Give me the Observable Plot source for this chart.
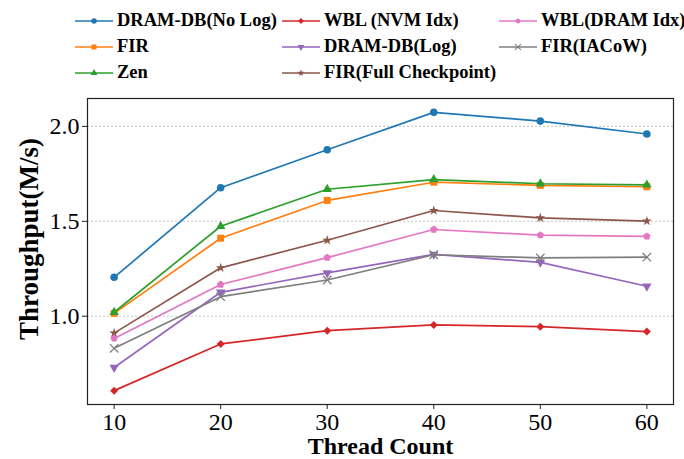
<!DOCTYPE html>
<html>
<head>
<meta charset="utf-8">
<script src="https://cdn.jsdelivr.net/npm/d3@7"></script>
<script src="https://cdn.jsdelivr.net/npm/@observablehq/plot@0.6"></script>
<style>
  html, body { margin: 0; padding: 0; background: #fff; }
  #wrap { position: relative; width: 684px; height: 459px; overflow: hidden; font-family: "Liberation Serif", "DejaVu Serif", serif; }
  #legend { position: relative; width: 684px; height: 88px; font-weight: bold; font-size: 18.5px; color: #000; }
  .item { position: absolute; display: flex; align-items: center; white-space: nowrap; }
  .item svg { display: block; }
  .item span { margin-left: 4px; }
  #ylabel { position: absolute; left: 29px; top: 239px; transform: translate(-50%, -50%) rotate(-90deg); font-weight: bold; font-size: 27px; white-space: nowrap; color: #000; line-height: 1; }
</style>
</head>
<body>
<div id="wrap">
  <div id="legend"></div>
  <div id="chart"></div>
  <div id="ylabel">Throughput(M/s)</div>
</div>
<script>
const threads = [10, 20, 30, 40, 50, 60];

const seriesNames = [
  "DRAM-DB(No Log)", "FIR", "Zen",
  "WBL (NVM Idx)", "DRAM-DB(Log)", "FIR(Full Checkpoint)",
  "WBL(DRAM Idx)", "FIR(IACoW)"
];
const dramNoLog   = [1.205, 1.677, 1.877, 2.074, 2.028, 1.960];
const fir         = [1.015, 1.411, 1.610, 1.706, 1.689, 1.682];
const zen         = [1.021, 1.474, 1.669, 1.720, 1.698, 1.692];
const wblNvm      = [0.608, 0.854, 0.924, 0.954, 0.945, 0.919];
const dramLog     = [0.730, 1.126, 1.228, 1.326, 1.284, 1.158];
const firFull     = [0.911, 1.255, 1.400, 1.557, 1.518, 1.501];
const wblDram     = [0.883, 1.167, 1.309, 1.457, 1.427, 1.421];
const firIACoW    = [0.831, 1.103, 1.191, 1.324, 1.307, 1.311];
const seriesValues = [dramNoLog, fir, zen, wblNvm, dramLog, firFull, wblDram, firIACoW];
const seriesColors = ["#1f77b4", "#ff7f0e", "#2ca02c", "#d62728", "#9467bd", "#8c564b", "#e377c2", "#7f7f7f"];

const xTicks = [10, 20, 30, 40, 50, 60];
const yTicks = [1.0, 1.5, 2.0];

const triangleDown = {
  draw(ctx, size) {
    const s = Math.sqrt(4 * size / Math.sqrt(3));
    const h = s * Math.sqrt(3) / 2;
    ctx.moveTo(0, 2 * h / 3);
    ctx.lineTo(-s / 2, -h / 3);
    ctx.lineTo(s / 2, -h / 3);
    ctx.closePath();
  }
};
const triangleUp = {
  draw(ctx, size) {
    const s = Math.sqrt(4 * size / Math.sqrt(3));
    const h = s * Math.sqrt(3) / 2;
    ctx.moveTo(0, -2 * h / 3);
    ctx.lineTo(-s / 2, h / 3);
    ctx.lineTo(s / 2, h / 3);
    ctx.closePath();
  }
};
const pentagon = {
  draw(ctx, size) {
    const R = Math.sqrt(2 * size / (5 * Math.sin(2 * Math.PI / 5)));
    for (let k = 0; k < 5; k++) {
      const a = -Math.PI / 2 + k * 2 * Math.PI / 5;
      const x = R * Math.cos(a), y = R * Math.sin(a);
      if (k === 0) ctx.moveTo(x, y); else ctx.lineTo(x, y);
    }
    ctx.closePath();
  }
};
const seriesSymbols = [d3.symbolCircle, d3.symbolSquare, triangleUp, d3.symbolDiamond2, triangleDown, d3.symbolStar, pentagon, d3.symbolTimes];
const seriesR = [3.8, 3.9, 3.5, 3.6, 3.5, 3.1, 3.4, 3.9];
const isStroke = [false, false, false, false, false, false, false, true];

const rows = [];
seriesNames.forEach((name, i) => {
  threads.forEach((t, j) => rows.push({series: name, idx: i, x: t, y: seriesValues[i][j]}));
});

const marks = [
  Plot.gridY(yTicks, {stroke: "#b8b8b8", strokeOpacity: 1, strokeWidth: 0.8, strokeDasharray: "2,2"}),
];
seriesNames.forEach((name, i) => {
  const d = rows.filter(r => r.idx === i);
  marks.push(Plot.line(d, {x: "x", y: "y", stroke: seriesColors[i], strokeWidth: 1.7}));
  if (isStroke[i]) {
    marks.push(Plot.dot(d, {x: "x", y: "y", symbol: seriesSymbols[i], r: seriesR[i], stroke: seriesColors[i], strokeWidth: 1.3, fill: "none"}));
  } else {
    marks.push(Plot.dot(d, {x: "x", y: "y", symbol: seriesSymbols[i], r: seriesR[i], fill: seriesColors[i], stroke: "none"}));
  }
});
marks.push(
  Plot.frame({stroke: "#222", strokeWidth: 1.2}),
  Plot.axisX(xTicks, {tickSize: 5, tickPadding: 3, fontSize: 24, label: null, stroke: "#222"}),
  Plot.axisY(yTicks, {tickSize: 5, tickPadding: 3, fontSize: 24, label: null, tickFormat: d3.format(".1f"), stroke: "#222"}),
  Plot.text(["Thread Count"], {frameAnchor: "bottom", lineAnchor: "bottom", dy: 49, fontSize: 24, fontWeight: "bold", fill: "#000"})
);

const chart = Plot.plot({
  width: 684,
  height: 371,
  marginTop: 10,
  marginBottom: 55,
  marginLeft: 87,
  marginRight: 11,
  style: {fontFamily: '"Liberation Serif", "DejaVu Serif", serif', color: "#000", background: "#fff", overflow: "visible"},
  x: {domain: [7.5, 62.5]},
  y: {domain: [0.535, 2.147]},
  marks
});
document.getElementById("chart").appendChild(chart);

const legend = d3.select("#legend");
const colX = [75, 282, 499];
const rowY = [20.7, 46.7, 72.7];
seriesNames.forEach((name, i) => {
  const col = Math.floor(i / 3), row = i % 3;
  const item = legend.append("div").attr("class", "item")
    .style("left", colX[col] + "px")
    .style("top", (rowY[row] - 12) + "px")
    .style("height", "24px");
  const svg = item.append("svg").attr("width", 38).attr("height", 24);
  svg.append("line").attr("x1", 0).attr("x2", 38).attr("y1", 12).attr("y2", 12)
    .attr("stroke", seriesColors[i]).attr("stroke-width", 1.7);
  const r = seriesR[i] * 0.72;
  const path = d3.symbol(seriesSymbols[i], Math.PI * r * r)();
  const p = svg.append("path").attr("d", path).attr("transform", "translate(19,12)");
  if (isStroke[i]) p.attr("fill", "none").attr("stroke", seriesColors[i]).attr("stroke-width", 1.1);
  else p.attr("fill", seriesColors[i]);
  item.append("span").text(name);
});
</script>
</body>
</html>
